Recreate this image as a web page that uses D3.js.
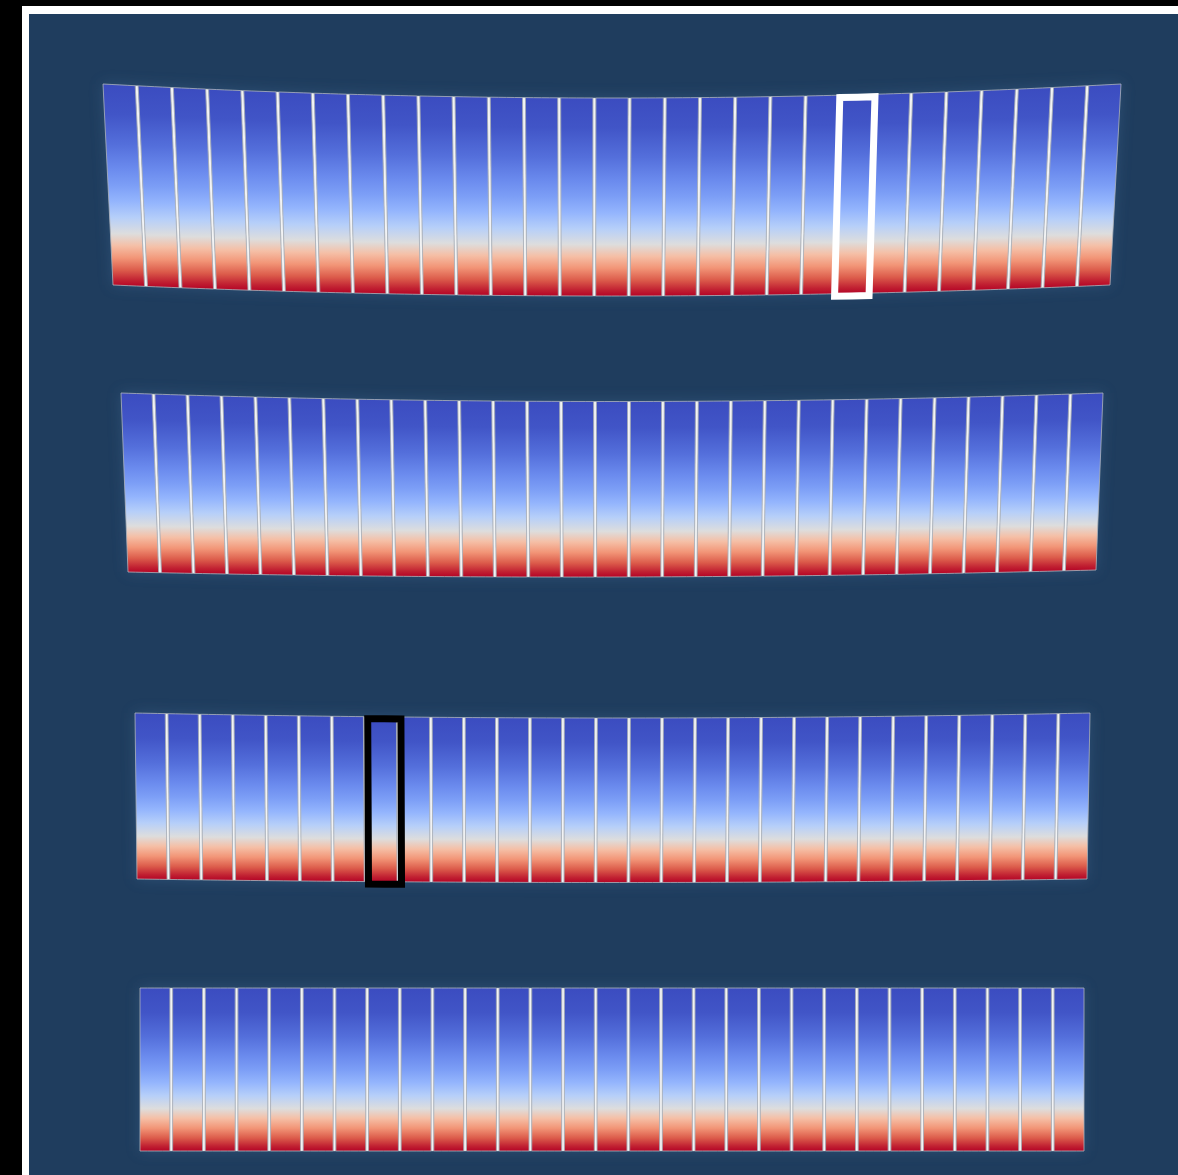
<!DOCTYPE html>
<html>
<head>
<meta charset="utf-8">
<script src="https://cdn.jsdelivr.net/npm/d3@7"></script>
<style>
  html, body { margin: 0; padding: 0; background: #000; }
  svg { display: block; }
</style>
</head>
<body>
<script>
// ---------------- data ----------------
const rowNames = ["Row 1", "Row 2", "Row 3", "Row 4"];
const barsPerRow = [29, 29, 29, 29];
// vertical profile inside each bar: relative depth (top=0, bottom=1) -> normalised value
const profileDepth = [0, 0.15, 0.30, 0.42, 0.50, 0.58, 0.66, 0.74, 0.80, 0.86, 0.92, 0.97, 1];
const profileValue = [0, 0.02, 0.08, 0.15, 0.20, 0.27, 0.37, 0.50, 0.64, 0.76, 0.88, 0.96, 1];
// diverging (cool-warm) colour anchors
const coolwarm = ["#3b4cc0", "#6282ea", "#8db0fe", "#b8d0f9", "#dddddd", "#f5c4ac", "#f49a7b", "#de604d", "#b40426"];
// highlighted cells
const highlightRow = [0, 2];
const highlightBar = [21, 7];
const highlightColor = ["#ffffff", "#000000"];

// ---------------- layout (geometry of each row, px) ----------------
const rowGeometry = [
  { tl: [103, 84], tr: [1121, 84], bl: [113, 285], br: [1110, 285], sagTop: 14, sagBot: 11 },
  { tl: [121, 393], tr: [1103, 393], bl: [128, 572], br: [1096, 570], sagTop: 8.5, sagBot: 6 },
  { tl: [135, 713], tr: [1090, 713], bl: [137, 879], br: [1087, 879], sagTop: 5, sagBot: 3.5 },
  { tl: [140, 988], tr: [1084, 988], bl: [140, 1151], br: [1084, 1151], sagTop: 0, sagBot: 0 }
];
const highlightNudge = [-1, 3];

const W = 1178, H = 1175;
const svg = d3.select("body").append("svg").attr("width", W).attr("height", H);
const defs = svg.append("defs");

// colour scale
const color = d3.scaleLinear()
  .domain(d3.range(coolwarm.length).map(i => i / (coolwarm.length - 1)))
  .range(coolwarm)
  .interpolate(d3.interpolateRgb);

const grad = defs.append("linearGradient").attr("id", "barGrad")
  .attr("x1", 0).attr("y1", 0).attr("x2", 0).attr("y2", 1);
grad.selectAll("stop").data(profileDepth).join("stop")
  .attr("offset", d => d)
  .attr("stop-color", (d, i) => color(profileValue[i]));

const blur = defs.append("filter").attr("id", "halo")
  .attr("x", "-10%").attr("y", "-30%").attr("width", "120%").attr("height", "160%");
blur.append("feGaussianBlur").attr("stdDeviation", 7);

// frame
svg.append("rect").attr("width", W).attr("height", H).attr("fill", "#000");
svg.append("rect").attr("x", 22).attr("y", 6).attr("width", W).attr("height", H).attr("fill", "#ffffff");
svg.append("rect").attr("x", 29).attr("y", 14).attr("width", W).attr("height", H).attr("fill", "#1f3d5e");

function makePoint(g) {
  return (u, v) => {
    const xt = g.tl[0] + (g.tr[0] - g.tl[0]) * u;
    const xb = g.bl[0] + (g.br[0] - g.bl[0]) * u;
    const yt = g.tl[1] + (g.tr[1] - g.tl[1]) * u + g.sagTop * 4 * u * (1 - u);
    const yb = g.bl[1] + (g.br[1] - g.bl[1]) * u + g.sagBot * 4 * u * (1 - u);
    return [xt + (xb - xt) * v, yt + (yb - yt) * v];
  };
}

function quad(P, u0, u1, v0, v1, steps) {
  const pts = [];
  for (let s = 0; s <= steps; s++) pts.push(P(u0 + (u1 - u0) * s / steps, v0));
  for (let s = 0; s <= steps; s++) pts.push(P(u1 - (u1 - u0) * s / steps, v1));
  return pts;
}
const line = d3.line().curve(d3.curveLinearClosed);

rowNames.forEach((name, r) => {
  const g = rowGeometry[r];
  const P = makePoint(g);
  const n = barsPerRow[r];
  const x = d3.scaleBand().domain(d3.range(n)).range([0, 1]).paddingInner(0.085).paddingOuter(0);
  const grp = svg.append("g").attr("class", "row").attr("data-name", name);

  // soft halo behind the row
  grp.append("path")
    .attr("d", line(quad(P, 0, 1, 0, 1, 20)))
    .attr("fill", "#3a6189").attr("opacity", 0.55)
    .attr("filter", "url(#halo)");

  // white separators (gaps)
  grp.selectAll("path.gap").data(d3.range(n - 1)).join("path")
    .attr("class", "gap")
    .attr("d", i => line(quad(P, x(i) + x.bandwidth(), x(i + 1), 0, 1, 1)))
    .attr("fill", "#f2f3f4")
    .attr("stroke", "#b9bdc2").attr("stroke-width", 0.5);

  // bars
  grp.selectAll("path.bar").data(d3.range(n)).join("path")
    .attr("class", "bar")
    .attr("d", i => line(quad(P, x(i), x(i) + x.bandwidth(), 0, 1, 4)))
    .attr("fill", "url(#barGrad)")
    .attr("stroke", "#aeb4bb").attr("stroke-width", 0.8);

  // highlights
  highlightRow.forEach((hr, k) => {
    if (hr !== r) return;
    const i = highlightBar[k];
    const span = (g.tr[0] - g.tl[0]);
    const du = 1.5 / span;
    const shift = highlightNudge[k] / span;
    const hh = (g.bl[1] - g.tl[1]);
    grp.append("path")
      .attr("class", "highlight")
      .attr("d", line(quad(P, x(i) - du + shift, x(i) + x.bandwidth() + du + shift, 0.012, 1 + 10 / hh * 0.25, 2)))
      .attr("fill", "none")
      .attr("stroke", highlightColor[k])
      .attr("stroke-width", 7);
  });
});
</script>
</body>
</html>
